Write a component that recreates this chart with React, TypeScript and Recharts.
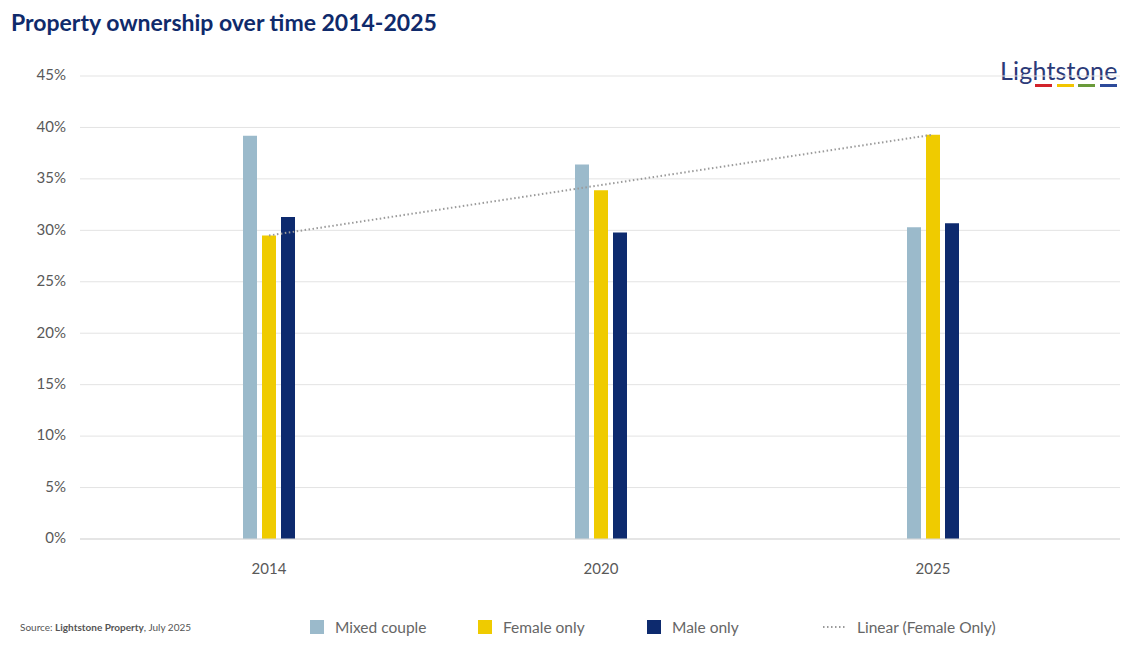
import React from "react";
import { ComposedChart, Bar, Line, XAxis, YAxis, CartesianGrid } from "recharts";

const years = ["2014", "2020", "2025"];
const mixedCouple = [39.2, 36.4, 30.3];
const femaleOnly = [29.5, 33.9, 39.3];
const maleOnly = [31.3, 29.8, 30.7];
const femaleTrend = [29.5, 34.4, 39.3];
const yTicks = [0, 5, 10, 15, 20, 25, 30, 35, 40, 45];

const data = years.map((y, i) => ({
  year: y,
  mixed: mixedCouple[i],
  female: femaleOnly[i],
  male: maleOnly[i],
  trend: femaleTrend[i],
}));

const FONT = "Lato, 'Noto Sans', sans-serif";
const C_MIXED = "#9bbacb";
const C_FEMALE = "#efcb00";
const C_MALE = "#0d2a6e";

const legendItems = [
  { label: "Mixed couple", color: C_MIXED, left: 310 },
  { label: "Female only", color: C_FEMALE, left: 478 },
  { label: "Male only", color: C_MALE, left: 647 },
];

export default function App() {
  return (
    <div style={{ position: "absolute", left: 0, top: 0, width: 1134, height: 654, background: "#fff", fontFamily: FONT }}>
      <div style={{ position: "absolute", left: 11, top: 8, fontSize: 23, fontWeight: 700, color: "#0f2a6b" }}>
        Property ownership over time 2014-2025
      </div>
      <div style={{ position: "absolute", left: 1000, top: 56, width: 120, height: 36 }}>
        <div style={{ fontSize: 25, color: "#2b3a78", letterSpacing: 0.2, lineHeight: "28px" }}>Lightstone</div>
        <div style={{ position: "absolute", left: 35, top: 28, width: 17, height: 3, background: "#d2232a" }} />
        <div style={{ position: "absolute", left: 57, top: 28, width: 17, height: 3, background: "#f2c500" }} />
        <div style={{ position: "absolute", left: 78, top: 28, width: 17, height: 3, background: "#6a9a3a" }} />
        <div style={{ position: "absolute", left: 100, top: 28, width: 17, height: 3, background: "#2d4a9a" }} />
      </div>
      <div style={{ position: "absolute", left: 0, top: 0 }}>
        <ComposedChart
          width={1134}
          height={600}
          data={data}
          margin={{ top: 76, right: 14, left: 0, bottom: 31 }}
          barSize={14}
          barGap={5}
        >
          <CartesianGrid vertical={false} stroke="#e3e3e3" />
          <XAxis
            dataKey="year"
            height={30}
            axisLine={{ stroke: "#d9d9d9" }}
            tickLine={false}
            tickSize={0}
            tickMargin={24}
            padding={{ left: 23, right: 21 }}
            tick={{ fill: "#595959", fontSize: 15, fontFamily: FONT }}
          />
          <YAxis
            width={80}
            domain={[0, 45]}
            ticks={yTicks}
            axisLine={false}
            tickLine={false}
            tickSize={6}
            tickMargin={8}
            tickFormatter={(v: number) => `${v}%`}
            tick={{ fill: "#595959", fontSize: 15, fontFamily: FONT, dy: -1 }}
          />
          <Bar dataKey="mixed" fill={C_MIXED} isAnimationActive={false} />
          <Bar dataKey="female" fill={C_FEMALE} isAnimationActive={false} />
          <Bar dataKey="male" fill={C_MALE} isAnimationActive={false} />
          <Line
            dataKey="trend"
            type="linear"
            stroke="#9a9a9a"
            strokeWidth={2}
            strokeDasharray="1.5 2.5"
            dot={false}
            activeDot={false}
            isAnimationActive={false}
          />
        </ComposedChart>
      </div>
      <div style={{ position: "absolute", left: 20, top: 621, fontSize: 10, color: "#555" }}>
        Source: <b>Lightstone Property</b>, July 2025
      </div>
      {legendItems.map((it) => (
        <div key={it.label} style={{ position: "absolute", left: it.left, top: 618, display: "flex", alignItems: "center", fontSize: 15.5, color: "#666" }}>
          <div style={{ width: 14, height: 14, background: it.color, marginRight: 11 }} />
          <span>{it.label}</span>
        </div>
      ))}
      <div style={{ position: "absolute", left: 822, top: 618, display: "flex", alignItems: "center", fontSize: 15.5, color: "#666" }}>
        <svg width={26} height={14} style={{ marginRight: 9 }}>
          <line x1={1} y1={7} x2={25} y2={7} stroke="#9a9a9a" strokeWidth={2} strokeDasharray="1.5 2.5" />
        </svg>
        <span>Linear (Female Only)</span>
      </div>
    </div>
  );
}
